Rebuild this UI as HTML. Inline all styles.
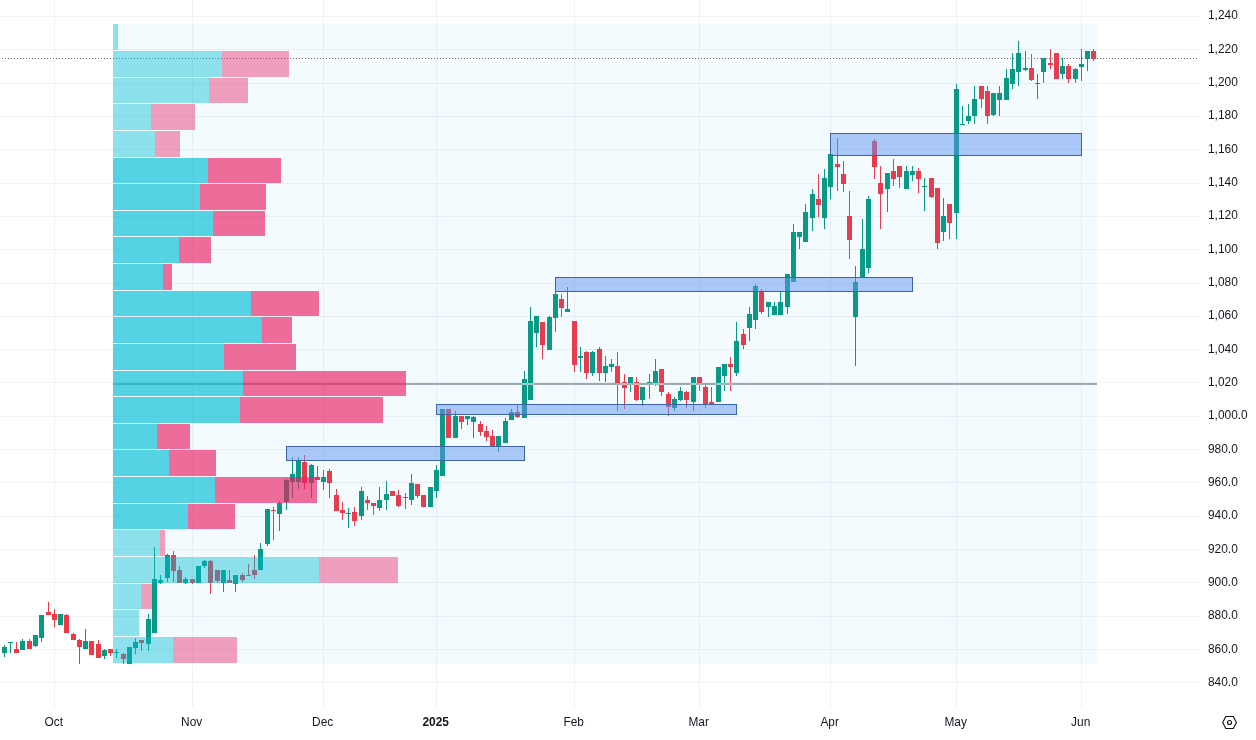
<!DOCTYPE html>
<html lang="en"><head><meta charset="utf-8"><title>Chart</title>
<style>html,body{margin:0;padding:0;background:#fff}body{width:1256px;height:740px;overflow:hidden;position:relative;font-family:"Liberation Sans",sans-serif}svg{position:absolute;left:0;top:0;display:block}text{font-family:"Liberation Sans",sans-serif;font-size:11.9px;fill:#131722}</style></head><body>
<svg width="1256" height="740" viewBox="0 0 1256 740">
<rect width="1256" height="740" fill="#ffffff"/>
<g fill="#f2f2f4" shape-rendering="crispEdges">
<rect x="0" y="16" width="1200" height="1"/>
<rect x="0" y="49" width="1200" height="1"/>
<rect x="0" y="83" width="1200" height="1"/>
<rect x="0" y="116" width="1200" height="1"/>
<rect x="0" y="149" width="1200" height="1"/>
<rect x="0" y="183" width="1200" height="1"/>
<rect x="0" y="216" width="1200" height="1"/>
<rect x="0" y="249" width="1200" height="1"/>
<rect x="0" y="283" width="1200" height="1"/>
<rect x="0" y="316" width="1200" height="1"/>
<rect x="0" y="349" width="1200" height="1"/>
<rect x="0" y="382" width="1200" height="1"/>
<rect x="0" y="416" width="1200" height="1"/>
<rect x="0" y="449" width="1200" height="1"/>
<rect x="0" y="482" width="1200" height="1"/>
<rect x="0" y="516" width="1200" height="1"/>
<rect x="0" y="549" width="1200" height="1"/>
<rect x="0" y="582" width="1200" height="1"/>
<rect x="0" y="616" width="1200" height="1"/>
<rect x="0" y="649" width="1200" height="1"/>
<rect x="0" y="682" width="1200" height="1"/>
<rect x="54" y="0" width="1" height="708"/>
<rect x="192" y="0" width="1" height="708"/>
<rect x="323" y="0" width="1" height="708"/>
<rect x="436" y="0" width="1" height="708"/>
<rect x="574" y="0" width="1" height="708"/>
<rect x="699" y="0" width="1" height="708"/>
<rect x="830" y="0" width="1" height="708"/>
<rect x="956" y="0" width="1" height="708"/>
<rect x="1081" y="0" width="1" height="708"/>
</g>
<line x1="2" y1="58.5" x2="1198" y2="58.5" stroke="#8a626b" stroke-width="1" stroke-dasharray="1 2" shape-rendering="crispEdges"/>
<g shape-rendering="crispEdges">
<rect x="4" y="645" width="1" height="12" fill="#089981"/>
<rect x="2" y="647" width="5" height="6" fill="#089981"/>
<rect x="10" y="642" width="1" height="11" fill="#089981"/>
<rect x="8" y="642" width="5" height="1" fill="#089981"/>
<rect x="16" y="642" width="1" height="11" fill="#f23645"/>
<rect x="14" y="649" width="5" height="4" fill="#f23645"/>
<rect x="22" y="639" width="1" height="11" fill="#089981"/>
<rect x="20" y="641" width="5" height="9" fill="#089981"/>
<rect x="29" y="639" width="1" height="10" fill="#f23645"/>
<rect x="27" y="641" width="5" height="8" fill="#f23645"/>
<rect x="35" y="635" width="1" height="12" fill="#089981"/>
<rect x="33" y="635" width="5" height="11" fill="#089981"/>
<rect x="41" y="615" width="1" height="27" fill="#089981"/>
<rect x="39" y="615" width="5" height="23" fill="#089981"/>
<rect x="48" y="602" width="1" height="13" fill="#f23645"/>
<rect x="46" y="612" width="5" height="3" fill="#f23645"/>
<rect x="54" y="609" width="1" height="18" fill="#f23645"/>
<rect x="52" y="614" width="5" height="6" fill="#f23645"/>
<rect x="60" y="614" width="1" height="11" fill="#089981"/>
<rect x="58" y="614" width="5" height="11" fill="#089981"/>
<rect x="66" y="614" width="1" height="19" fill="#f23645"/>
<rect x="64" y="615" width="5" height="18" fill="#f23645"/>
<rect x="73" y="633" width="1" height="7" fill="#f23645"/>
<rect x="71" y="634" width="5" height="6" fill="#f23645"/>
<rect x="79" y="639" width="1" height="25" fill="#f23645"/>
<rect x="77" y="640" width="5" height="7" fill="#f23645"/>
<rect x="85" y="629" width="1" height="20" fill="#089981"/>
<rect x="83" y="641" width="5" height="8" fill="#089981"/>
<rect x="91" y="641" width="1" height="14" fill="#f23645"/>
<rect x="89" y="641" width="5" height="14" fill="#f23645"/>
<rect x="98" y="640" width="1" height="18" fill="#f23645"/>
<rect x="96" y="644" width="5" height="14" fill="#f23645"/>
<rect x="104" y="649" width="1" height="10" fill="#089981"/>
<rect x="102" y="650" width="5" height="6" fill="#089981"/>
<rect x="110" y="649" width="1" height="7" fill="#f23645"/>
<rect x="108" y="649" width="5" height="4" fill="#f23645"/>
<rect x="116" y="649" width="1" height="9" fill="#089981"/>
<rect x="114" y="652" width="5" height="1" fill="#089981"/>
<rect x="123" y="653" width="1" height="11" fill="#f23645"/>
<rect x="121" y="654" width="5" height="5" fill="#f23645"/>
<rect x="129" y="647" width="1" height="17" fill="#089981"/>
<rect x="127" y="647" width="5" height="17" fill="#089981"/>
<rect x="135" y="638" width="1" height="16" fill="#089981"/>
<rect x="133" y="642" width="5" height="6" fill="#089981"/>
<rect x="141" y="640" width="1" height="11" fill="#f23645"/>
<rect x="139" y="640" width="5" height="3" fill="#f23645"/>
<rect x="148" y="614" width="1" height="37" fill="#089981"/>
<rect x="146" y="619" width="5" height="25" fill="#089981"/>
<rect x="154" y="547" width="1" height="86" fill="#089981"/>
<rect x="152" y="579" width="5" height="54" fill="#089981"/>
<rect x="160" y="575" width="1" height="9" fill="#089981"/>
<rect x="158" y="580" width="5" height="3" fill="#089981"/>
<rect x="167" y="554" width="1" height="28" fill="#089981"/>
<rect x="165" y="555" width="5" height="23" fill="#089981"/>
<rect x="173" y="551" width="1" height="31" fill="#f23645"/>
<rect x="171" y="555" width="5" height="16" fill="#f23645"/>
<rect x="179" y="566" width="1" height="17" fill="#f23645"/>
<rect x="177" y="570" width="5" height="13" fill="#f23645"/>
<rect x="185" y="577" width="1" height="7" fill="#089981"/>
<rect x="183" y="579" width="5" height="4" fill="#089981"/>
<rect x="192" y="579" width="1" height="5" fill="#f23645"/>
<rect x="190" y="579" width="5" height="4" fill="#f23645"/>
<rect x="198" y="566" width="1" height="17" fill="#089981"/>
<rect x="196" y="566" width="5" height="17" fill="#089981"/>
<rect x="204" y="560" width="1" height="8" fill="#089981"/>
<rect x="202" y="561" width="5" height="5" fill="#089981"/>
<rect x="210" y="560" width="1" height="34" fill="#f23645"/>
<rect x="208" y="561" width="5" height="22" fill="#f23645"/>
<rect x="217" y="570" width="1" height="13" fill="#f23645"/>
<rect x="215" y="570" width="5" height="11" fill="#f23645"/>
<rect x="223" y="570" width="1" height="22" fill="#089981"/>
<rect x="221" y="570" width="5" height="13" fill="#089981"/>
<rect x="229" y="570" width="1" height="13" fill="#f23645"/>
<rect x="227" y="580" width="5" height="3" fill="#f23645"/>
<rect x="235" y="575" width="1" height="17" fill="#089981"/>
<rect x="233" y="575" width="5" height="9" fill="#089981"/>
<rect x="242" y="573" width="1" height="9" fill="#f23645"/>
<rect x="240" y="575" width="5" height="5" fill="#f23645"/>
<rect x="248" y="564" width="1" height="12" fill="#f23645"/>
<rect x="246" y="575" width="5" height="1" fill="#f23645"/>
<rect x="254" y="555" width="1" height="24" fill="#f23645"/>
<rect x="252" y="570" width="5" height="5" fill="#f23645"/>
<rect x="260" y="543" width="1" height="27" fill="#089981"/>
<rect x="258" y="549" width="5" height="21" fill="#089981"/>
<rect x="267" y="509" width="1" height="37" fill="#089981"/>
<rect x="265" y="509" width="5" height="35" fill="#089981"/>
<rect x="273" y="507" width="1" height="33" fill="#f23645"/>
<rect x="271" y="510" width="5" height="1" fill="#f23645"/>
<rect x="279" y="501" width="1" height="30" fill="#089981"/>
<rect x="277" y="503" width="5" height="11" fill="#089981"/>
<rect x="286" y="479" width="1" height="31" fill="#089981"/>
<rect x="284" y="480" width="5" height="22" fill="#089981"/>
<rect x="292" y="457" width="1" height="41" fill="#089981"/>
<rect x="290" y="474" width="5" height="8" fill="#089981"/>
<rect x="298" y="457" width="1" height="32" fill="#089981"/>
<rect x="296" y="460" width="5" height="22" fill="#089981"/>
<rect x="304" y="455" width="1" height="34" fill="#f23645"/>
<rect x="302" y="462" width="5" height="21" fill="#f23645"/>
<rect x="311" y="464" width="1" height="34" fill="#089981"/>
<rect x="309" y="465" width="5" height="18" fill="#089981"/>
<rect x="317" y="466" width="1" height="14" fill="#f23645"/>
<rect x="315" y="477" width="5" height="3" fill="#f23645"/>
<rect x="323" y="470" width="1" height="20" fill="#089981"/>
<rect x="321" y="477" width="5" height="5" fill="#089981"/>
<rect x="329" y="469" width="1" height="29" fill="#f23645"/>
<rect x="327" y="471" width="5" height="12" fill="#f23645"/>
<rect x="336" y="489" width="1" height="22" fill="#f23645"/>
<rect x="334" y="495" width="5" height="16" fill="#f23645"/>
<rect x="342" y="502" width="1" height="18" fill="#f23645"/>
<rect x="340" y="510" width="5" height="3" fill="#f23645"/>
<rect x="348" y="508" width="1" height="20" fill="#089981"/>
<rect x="346" y="513" width="5" height="1" fill="#089981"/>
<rect x="354" y="507" width="1" height="19" fill="#f23645"/>
<rect x="352" y="512" width="5" height="9" fill="#f23645"/>
<rect x="361" y="487" width="1" height="33" fill="#089981"/>
<rect x="359" y="491" width="5" height="25" fill="#089981"/>
<rect x="367" y="496" width="1" height="14" fill="#f23645"/>
<rect x="365" y="500" width="5" height="3" fill="#f23645"/>
<rect x="373" y="503" width="1" height="12" fill="#f23645"/>
<rect x="371" y="503" width="5" height="3" fill="#f23645"/>
<rect x="379" y="487" width="1" height="24" fill="#089981"/>
<rect x="377" y="500" width="5" height="8" fill="#089981"/>
<rect x="386" y="481" width="1" height="29" fill="#089981"/>
<rect x="384" y="494" width="5" height="6" fill="#089981"/>
<rect x="392" y="491" width="1" height="5" fill="#f23645"/>
<rect x="390" y="491" width="5" height="5" fill="#f23645"/>
<rect x="398" y="490" width="1" height="17" fill="#f23645"/>
<rect x="396" y="495" width="5" height="11" fill="#f23645"/>
<rect x="405" y="493" width="1" height="16" fill="#f23645"/>
<rect x="403" y="497" width="5" height="1" fill="#f23645"/>
<rect x="411" y="474" width="1" height="31" fill="#089981"/>
<rect x="409" y="483" width="5" height="17" fill="#089981"/>
<rect x="417" y="484" width="1" height="14" fill="#f23645"/>
<rect x="415" y="484" width="5" height="12" fill="#f23645"/>
<rect x="423" y="495" width="1" height="12" fill="#f23645"/>
<rect x="421" y="495" width="5" height="12" fill="#f23645"/>
<rect x="430" y="487" width="1" height="20" fill="#089981"/>
<rect x="428" y="487" width="5" height="20" fill="#089981"/>
<rect x="436" y="465" width="1" height="33" fill="#089981"/>
<rect x="434" y="470" width="5" height="21" fill="#089981"/>
<rect x="442" y="409" width="1" height="67" fill="#089981"/>
<rect x="440" y="409" width="5" height="67" fill="#089981"/>
<rect x="448" y="409" width="1" height="29" fill="#f23645"/>
<rect x="446" y="409" width="5" height="29" fill="#f23645"/>
<rect x="455" y="411" width="1" height="27" fill="#089981"/>
<rect x="453" y="416" width="5" height="22" fill="#089981"/>
<rect x="461" y="416" width="1" height="13" fill="#f23645"/>
<rect x="459" y="416" width="5" height="6" fill="#f23645"/>
<rect x="467" y="416" width="1" height="9" fill="#089981"/>
<rect x="465" y="416" width="5" height="3" fill="#089981"/>
<rect x="473" y="416" width="1" height="22" fill="#089981"/>
<rect x="471" y="417" width="5" height="5" fill="#089981"/>
<rect x="480" y="421" width="1" height="15" fill="#f23645"/>
<rect x="478" y="424" width="5" height="8" fill="#f23645"/>
<rect x="486" y="426" width="1" height="15" fill="#f23645"/>
<rect x="484" y="431" width="5" height="6" fill="#f23645"/>
<rect x="492" y="430" width="1" height="16" fill="#f23645"/>
<rect x="490" y="436" width="5" height="10" fill="#f23645"/>
<rect x="498" y="436" width="1" height="16" fill="#089981"/>
<rect x="496" y="436" width="5" height="11" fill="#089981"/>
<rect x="505" y="418" width="1" height="25" fill="#089981"/>
<rect x="503" y="421" width="5" height="22" fill="#089981"/>
<rect x="511" y="409" width="1" height="11" fill="#089981"/>
<rect x="509" y="412" width="5" height="8" fill="#089981"/>
<rect x="517" y="405" width="1" height="13" fill="#f23645"/>
<rect x="515" y="412" width="5" height="5" fill="#f23645"/>
<rect x="524" y="371" width="1" height="47" fill="#089981"/>
<rect x="522" y="379" width="5" height="39" fill="#089981"/>
<rect x="530" y="307" width="1" height="93" fill="#089981"/>
<rect x="528" y="321" width="5" height="79" fill="#089981"/>
<rect x="536" y="316" width="1" height="31" fill="#089981"/>
<rect x="534" y="316" width="5" height="17" fill="#089981"/>
<rect x="542" y="322" width="1" height="37" fill="#f23645"/>
<rect x="540" y="322" width="5" height="23" fill="#f23645"/>
<rect x="549" y="316" width="1" height="34" fill="#089981"/>
<rect x="547" y="317" width="5" height="33" fill="#089981"/>
<rect x="555" y="292" width="1" height="40" fill="#089981"/>
<rect x="553" y="294" width="5" height="24" fill="#089981"/>
<rect x="561" y="294" width="1" height="23" fill="#f23645"/>
<rect x="559" y="299" width="5" height="9" fill="#f23645"/>
<rect x="567" y="287" width="1" height="25" fill="#089981"/>
<rect x="565" y="309" width="5" height="3" fill="#089981"/>
<rect x="574" y="321" width="1" height="51" fill="#f23645"/>
<rect x="572" y="321" width="5" height="44" fill="#f23645"/>
<rect x="580" y="347" width="1" height="25" fill="#089981"/>
<rect x="578" y="356" width="5" height="2" fill="#089981"/>
<rect x="586" y="351" width="1" height="28" fill="#f23645"/>
<rect x="584" y="352" width="5" height="21" fill="#f23645"/>
<rect x="592" y="351" width="1" height="25" fill="#089981"/>
<rect x="590" y="352" width="5" height="21" fill="#089981"/>
<rect x="599" y="347" width="1" height="34" fill="#f23645"/>
<rect x="597" y="349" width="5" height="24" fill="#f23645"/>
<rect x="605" y="356" width="1" height="26" fill="#089981"/>
<rect x="603" y="366" width="5" height="7" fill="#089981"/>
<rect x="611" y="359" width="1" height="13" fill="#089981"/>
<rect x="609" y="364" width="5" height="3" fill="#089981"/>
<rect x="617" y="352" width="1" height="59" fill="#f23645"/>
<rect x="615" y="366" width="5" height="17" fill="#f23645"/>
<rect x="624" y="374" width="1" height="35" fill="#f23645"/>
<rect x="622" y="382" width="5" height="6" fill="#f23645"/>
<rect x="630" y="377" width="1" height="15" fill="#089981"/>
<rect x="628" y="377" width="5" height="6" fill="#089981"/>
<rect x="636" y="377" width="1" height="24" fill="#f23645"/>
<rect x="634" y="382" width="5" height="18" fill="#f23645"/>
<rect x="642" y="387" width="1" height="19" fill="#089981"/>
<rect x="640" y="387" width="5" height="13" fill="#089981"/>
<rect x="649" y="374" width="1" height="25" fill="#089981"/>
<rect x="647" y="382" width="5" height="1" fill="#089981"/>
<rect x="655" y="359" width="1" height="27" fill="#089981"/>
<rect x="653" y="371" width="5" height="13" fill="#089981"/>
<rect x="661" y="369" width="1" height="27" fill="#f23645"/>
<rect x="659" y="369" width="5" height="23" fill="#f23645"/>
<rect x="668" y="392" width="1" height="24" fill="#f23645"/>
<rect x="666" y="394" width="5" height="13" fill="#f23645"/>
<rect x="674" y="397" width="1" height="14" fill="#089981"/>
<rect x="672" y="399" width="5" height="9" fill="#089981"/>
<rect x="680" y="387" width="1" height="14" fill="#089981"/>
<rect x="678" y="391" width="5" height="9" fill="#089981"/>
<rect x="686" y="391" width="1" height="17" fill="#f23645"/>
<rect x="684" y="392" width="5" height="8" fill="#f23645"/>
<rect x="693" y="377" width="1" height="34" fill="#089981"/>
<rect x="691" y="377" width="5" height="25" fill="#089981"/>
<rect x="699" y="377" width="1" height="14" fill="#f23645"/>
<rect x="697" y="377" width="5" height="6" fill="#f23645"/>
<rect x="705" y="385" width="1" height="23" fill="#f23645"/>
<rect x="703" y="387" width="5" height="17" fill="#f23645"/>
<rect x="711" y="387" width="1" height="17" fill="#f23645"/>
<rect x="709" y="402" width="5" height="2" fill="#f23645"/>
<rect x="718" y="367" width="1" height="35" fill="#089981"/>
<rect x="716" y="367" width="5" height="35" fill="#089981"/>
<rect x="724" y="364" width="1" height="27" fill="#089981"/>
<rect x="722" y="364" width="5" height="12" fill="#089981"/>
<rect x="730" y="357" width="1" height="34" fill="#f23645"/>
<rect x="728" y="364" width="5" height="3" fill="#f23645"/>
<rect x="736" y="322" width="1" height="54" fill="#089981"/>
<rect x="734" y="341" width="5" height="32" fill="#089981"/>
<rect x="743" y="329" width="1" height="20" fill="#f23645"/>
<rect x="741" y="334" width="5" height="11" fill="#f23645"/>
<rect x="749" y="307" width="1" height="34" fill="#089981"/>
<rect x="747" y="314" width="5" height="14" fill="#089981"/>
<rect x="755" y="284" width="1" height="45" fill="#089981"/>
<rect x="753" y="286" width="5" height="34" fill="#089981"/>
<rect x="761" y="289" width="1" height="25" fill="#f23645"/>
<rect x="759" y="292" width="5" height="20" fill="#f23645"/>
<rect x="768" y="302" width="1" height="15" fill="#089981"/>
<rect x="766" y="302" width="5" height="5" fill="#089981"/>
<rect x="774" y="302" width="1" height="13" fill="#089981"/>
<rect x="772" y="306" width="5" height="9" fill="#089981"/>
<rect x="780" y="292" width="1" height="23" fill="#089981"/>
<rect x="778" y="302" width="5" height="13" fill="#089981"/>
<rect x="787" y="274" width="1" height="40" fill="#089981"/>
<rect x="785" y="274" width="5" height="33" fill="#089981"/>
<rect x="793" y="224" width="1" height="58" fill="#089981"/>
<rect x="791" y="232" width="5" height="50" fill="#089981"/>
<rect x="799" y="232" width="1" height="17" fill="#089981"/>
<rect x="797" y="232" width="5" height="5" fill="#089981"/>
<rect x="805" y="204" width="1" height="38" fill="#089981"/>
<rect x="803" y="212" width="5" height="30" fill="#089981"/>
<rect x="812" y="189" width="1" height="42" fill="#089981"/>
<rect x="810" y="194" width="5" height="24" fill="#089981"/>
<rect x="818" y="174" width="1" height="43" fill="#f23645"/>
<rect x="816" y="199" width="5" height="6" fill="#f23645"/>
<rect x="824" y="169" width="1" height="60" fill="#089981"/>
<rect x="822" y="178" width="5" height="40" fill="#089981"/>
<rect x="830" y="154" width="1" height="45" fill="#089981"/>
<rect x="828" y="154" width="5" height="33" fill="#089981"/>
<rect x="837" y="138" width="1" height="53" fill="#f23645"/>
<rect x="835" y="164" width="5" height="3" fill="#f23645"/>
<rect x="843" y="161" width="1" height="31" fill="#f23645"/>
<rect x="841" y="174" width="5" height="10" fill="#f23645"/>
<rect x="849" y="191" width="1" height="68" fill="#f23645"/>
<rect x="847" y="216" width="5" height="24" fill="#f23645"/>
<rect x="855" y="266" width="1" height="100" fill="#089981"/>
<rect x="853" y="282" width="5" height="35" fill="#089981"/>
<rect x="862" y="219" width="1" height="59" fill="#089981"/>
<rect x="860" y="249" width="5" height="29" fill="#089981"/>
<rect x="868" y="196" width="1" height="77" fill="#089981"/>
<rect x="866" y="199" width="5" height="69" fill="#089981"/>
<rect x="874" y="139" width="1" height="40" fill="#f23645"/>
<rect x="872" y="141" width="5" height="26" fill="#f23645"/>
<rect x="880" y="166" width="1" height="63" fill="#f23645"/>
<rect x="878" y="183" width="5" height="11" fill="#f23645"/>
<rect x="887" y="173" width="1" height="39" fill="#089981"/>
<rect x="885" y="173" width="5" height="16" fill="#089981"/>
<rect x="893" y="159" width="1" height="27" fill="#f23645"/>
<rect x="891" y="171" width="5" height="8" fill="#f23645"/>
<rect x="899" y="166" width="1" height="22" fill="#f23645"/>
<rect x="897" y="166" width="5" height="11" fill="#f23645"/>
<rect x="906" y="166" width="1" height="23" fill="#089981"/>
<rect x="904" y="171" width="5" height="18" fill="#089981"/>
<rect x="912" y="166" width="1" height="15" fill="#089981"/>
<rect x="910" y="171" width="5" height="4" fill="#089981"/>
<rect x="918" y="168" width="1" height="25" fill="#f23645"/>
<rect x="916" y="171" width="5" height="8" fill="#f23645"/>
<rect x="924" y="178" width="1" height="33" fill="#089981"/>
<rect x="922" y="186" width="5" height="1" fill="#089981"/>
<rect x="931" y="178" width="1" height="20" fill="#f23645"/>
<rect x="929" y="178" width="5" height="19" fill="#f23645"/>
<rect x="937" y="188" width="1" height="61" fill="#f23645"/>
<rect x="935" y="188" width="5" height="55" fill="#f23645"/>
<rect x="943" y="198" width="1" height="43" fill="#089981"/>
<rect x="941" y="216" width="5" height="16" fill="#089981"/>
<rect x="949" y="204" width="1" height="35" fill="#f23645"/>
<rect x="947" y="204" width="5" height="19" fill="#f23645"/>
<rect x="956" y="84" width="1" height="155" fill="#089981"/>
<rect x="954" y="89" width="5" height="124" fill="#089981"/>
<rect x="962" y="106" width="1" height="19" fill="#089981"/>
<rect x="960" y="124" width="5" height="1" fill="#089981"/>
<rect x="968" y="104" width="1" height="20" fill="#089981"/>
<rect x="966" y="116" width="5" height="5" fill="#089981"/>
<rect x="974" y="86" width="1" height="38" fill="#089981"/>
<rect x="972" y="99" width="5" height="17" fill="#089981"/>
<rect x="981" y="86" width="1" height="22" fill="#f23645"/>
<rect x="979" y="86" width="5" height="13" fill="#f23645"/>
<rect x="987" y="86" width="1" height="38" fill="#f23645"/>
<rect x="985" y="91" width="5" height="25" fill="#f23645"/>
<rect x="993" y="93" width="1" height="23" fill="#089981"/>
<rect x="991" y="93" width="5" height="22" fill="#089981"/>
<rect x="999" y="86" width="1" height="30" fill="#089981"/>
<rect x="997" y="93" width="5" height="7" fill="#089981"/>
<rect x="1006" y="69" width="1" height="31" fill="#089981"/>
<rect x="1004" y="78" width="5" height="22" fill="#089981"/>
<rect x="1012" y="53" width="1" height="36" fill="#089981"/>
<rect x="1010" y="69" width="5" height="15" fill="#089981"/>
<rect x="1018" y="41" width="1" height="45" fill="#089981"/>
<rect x="1016" y="53" width="5" height="19" fill="#089981"/>
<rect x="1025" y="51" width="1" height="20" fill="#089981"/>
<rect x="1023" y="68" width="5" height="2" fill="#089981"/>
<rect x="1031" y="54" width="1" height="27" fill="#f23645"/>
<rect x="1029" y="68" width="5" height="12" fill="#f23645"/>
<rect x="1037" y="74" width="1" height="25" fill="#089981"/>
<rect x="1035" y="83" width="5" height="1" fill="#089981"/>
<rect x="1043" y="58" width="1" height="25" fill="#089981"/>
<rect x="1041" y="58" width="5" height="14" fill="#089981"/>
<rect x="1050" y="49" width="1" height="20" fill="#f23645"/>
<rect x="1048" y="63" width="5" height="2" fill="#f23645"/>
<rect x="1056" y="53" width="1" height="26" fill="#f23645"/>
<rect x="1054" y="53" width="5" height="26" fill="#f23645"/>
<rect x="1062" y="58" width="1" height="21" fill="#089981"/>
<rect x="1060" y="66" width="5" height="8" fill="#089981"/>
<rect x="1068" y="64" width="1" height="19" fill="#f23645"/>
<rect x="1066" y="66" width="5" height="13" fill="#f23645"/>
<rect x="1075" y="68" width="1" height="15" fill="#089981"/>
<rect x="1073" y="69" width="5" height="10" fill="#089981"/>
<rect x="1081" y="49" width="1" height="32" fill="#089981"/>
<rect x="1079" y="64" width="5" height="3" fill="#089981"/>
<rect x="1087" y="51" width="1" height="20" fill="#089981"/>
<rect x="1085" y="51" width="5" height="8" fill="#089981"/>
<rect x="1093" y="49" width="1" height="12" fill="#f23645"/>
<rect x="1091" y="51" width="5" height="8" fill="#f23645"/>
</g>
<rect x="113" y="383" width="984" height="2" fill="#a6abad" shape-rendering="crispEdges"/>
<rect x="522" y="383" width="5" height="2" fill="#9ad8cd" shape-rendering="crispEdges"/>
<rect x="528" y="383" width="5" height="2" fill="#9ad8cd" shape-rendering="crispEdges"/>
<rect x="617" y="383" width="1" height="2" fill="#f9b3b9" shape-rendering="crispEdges"/>
<rect x="622" y="383" width="5" height="2" fill="#f9b3b9" shape-rendering="crispEdges"/>
<rect x="630" y="383" width="1" height="2" fill="#9ad8cd" shape-rendering="crispEdges"/>
<rect x="634" y="383" width="5" height="2" fill="#f9b3b9" shape-rendering="crispEdges"/>
<rect x="649" y="383" width="1" height="2" fill="#9ad8cd" shape-rendering="crispEdges"/>
<rect x="653" y="383" width="5" height="2" fill="#9ad8cd" shape-rendering="crispEdges"/>
<rect x="659" y="383" width="5" height="2" fill="#f9b3b9" shape-rendering="crispEdges"/>
<rect x="691" y="383" width="5" height="2" fill="#9ad8cd" shape-rendering="crispEdges"/>
<rect x="699" y="383" width="1" height="2" fill="#f9b3b9" shape-rendering="crispEdges"/>
<rect x="716" y="383" width="5" height="2" fill="#9ad8cd" shape-rendering="crispEdges"/>
<rect x="724" y="383" width="1" height="2" fill="#9ad8cd" shape-rendering="crispEdges"/>
<rect x="730" y="383" width="1" height="2" fill="#f9b3b9" shape-rendering="crispEdges"/>
<g shape-rendering="crispEdges">
<rect x="113" y="24" width="984" height="639.5" fill="rgb(15,170,235)" fill-opacity="0.05"/>
<rect x="113" y="24" width="4" height="26" fill="rgb(0,188,212)" fill-opacity="0.42"/>
<rect x="117" y="24" width="1" height="26" fill="rgb(120,110,170)" fill-opacity="0.42"/>
<rect x="113" y="51" width="109" height="26" fill="rgb(0,188,212)" fill-opacity="0.42"/>
<rect x="222" y="51" width="67" height="26" fill="rgb(233,30,99)" fill-opacity="0.42"/>
<rect x="113" y="78" width="96" height="25" fill="rgb(0,188,212)" fill-opacity="0.42"/>
<rect x="209" y="78" width="39" height="25" fill="rgb(233,30,99)" fill-opacity="0.42"/>
<rect x="113" y="104" width="38" height="26" fill="rgb(0,188,212)" fill-opacity="0.42"/>
<rect x="151" y="104" width="44" height="26" fill="rgb(233,30,99)" fill-opacity="0.42"/>
<rect x="113" y="131" width="42" height="26" fill="rgb(0,188,212)" fill-opacity="0.42"/>
<rect x="155" y="131" width="25" height="26" fill="rgb(233,30,99)" fill-opacity="0.42"/>
<rect x="113" y="158" width="95" height="25" fill="rgb(0,188,212)" fill-opacity="0.65"/>
<rect x="208" y="158" width="73" height="25" fill="rgb(233,30,99)" fill-opacity="0.65"/>
<rect x="113" y="184" width="87" height="26" fill="rgb(0,188,212)" fill-opacity="0.65"/>
<rect x="200" y="184" width="66" height="26" fill="rgb(233,30,99)" fill-opacity="0.65"/>
<rect x="113" y="211" width="100" height="25" fill="rgb(0,188,212)" fill-opacity="0.65"/>
<rect x="213" y="211" width="52" height="25" fill="rgb(233,30,99)" fill-opacity="0.65"/>
<rect x="113" y="237" width="66" height="26" fill="rgb(0,188,212)" fill-opacity="0.65"/>
<rect x="179" y="237" width="32" height="26" fill="rgb(233,30,99)" fill-opacity="0.65"/>
<rect x="113" y="264" width="50" height="26" fill="rgb(0,188,212)" fill-opacity="0.65"/>
<rect x="163" y="264" width="9" height="26" fill="rgb(233,30,99)" fill-opacity="0.65"/>
<rect x="113" y="291" width="138" height="25" fill="rgb(0,188,212)" fill-opacity="0.65"/>
<rect x="251" y="291" width="68" height="25" fill="rgb(233,30,99)" fill-opacity="0.65"/>
<rect x="113" y="317" width="149" height="26" fill="rgb(0,188,212)" fill-opacity="0.65"/>
<rect x="262" y="317" width="30" height="26" fill="rgb(233,30,99)" fill-opacity="0.65"/>
<rect x="113" y="344" width="111" height="26" fill="rgb(0,188,212)" fill-opacity="0.65"/>
<rect x="224" y="344" width="72" height="26" fill="rgb(233,30,99)" fill-opacity="0.65"/>
<rect x="113" y="371" width="130" height="25" fill="rgb(0,188,212)" fill-opacity="0.65"/>
<rect x="243" y="371" width="163" height="25" fill="rgb(233,30,99)" fill-opacity="0.65"/>
<rect x="113" y="397" width="127" height="26" fill="rgb(0,188,212)" fill-opacity="0.65"/>
<rect x="240" y="397" width="143" height="26" fill="rgb(233,30,99)" fill-opacity="0.65"/>
<rect x="113" y="424" width="44" height="25" fill="rgb(0,188,212)" fill-opacity="0.65"/>
<rect x="157" y="424" width="33" height="25" fill="rgb(233,30,99)" fill-opacity="0.65"/>
<rect x="113" y="450" width="56" height="26" fill="rgb(0,188,212)" fill-opacity="0.65"/>
<rect x="169" y="450" width="47" height="26" fill="rgb(233,30,99)" fill-opacity="0.65"/>
<rect x="113" y="477" width="102" height="26" fill="rgb(0,188,212)" fill-opacity="0.65"/>
<rect x="215" y="477" width="102" height="26" fill="rgb(233,30,99)" fill-opacity="0.65"/>
<rect x="113" y="504" width="75" height="25" fill="rgb(0,188,212)" fill-opacity="0.65"/>
<rect x="188" y="504" width="47" height="25" fill="rgb(233,30,99)" fill-opacity="0.65"/>
<rect x="113" y="530" width="47" height="26" fill="rgb(0,188,212)" fill-opacity="0.42"/>
<rect x="160" y="530" width="5" height="26" fill="rgb(233,30,99)" fill-opacity="0.42"/>
<rect x="113" y="557" width="206" height="26" fill="rgb(0,188,212)" fill-opacity="0.42"/>
<rect x="319" y="557" width="79" height="26" fill="rgb(233,30,99)" fill-opacity="0.42"/>
<rect x="113" y="584" width="28" height="25" fill="rgb(0,188,212)" fill-opacity="0.42"/>
<rect x="141" y="584" width="11" height="25" fill="rgb(233,30,99)" fill-opacity="0.42"/>
<rect x="113" y="610" width="26" height="26" fill="rgb(0,188,212)" fill-opacity="0.42"/>
<rect x="113" y="637" width="60" height="26" fill="rgb(0,188,212)" fill-opacity="0.42"/>
<rect x="173" y="637" width="64" height="26" fill="rgb(233,30,99)" fill-opacity="0.42"/>
</g>
<rect x="830.5" y="133.5" width="251.0" height="22.0" fill="rgb(98,150,240)" fill-opacity="0.5" stroke="#3f64a6" stroke-width="1"/>
<rect x="555.5" y="277.5" width="357.0" height="14.0" fill="rgb(98,150,240)" fill-opacity="0.5" stroke="#3f64a6" stroke-width="1"/>
<rect x="436.5" y="404.5" width="300.0" height="10.0" fill="rgb(98,150,240)" fill-opacity="0.5" stroke="#3f64a6" stroke-width="1"/>
<rect x="286.5" y="446.5" width="238.0" height="14.0" fill="rgb(98,150,240)" fill-opacity="0.5" stroke="#3f64a6" stroke-width="1"/>
<text x="1208" y="19.45">1,240</text>
<text x="1208" y="52.77">1,220</text>
<text x="1208" y="86.09">1,200</text>
<text x="1208" y="119.41">1,180</text>
<text x="1208" y="152.73">1,160</text>
<text x="1208" y="186.05">1,140</text>
<text x="1208" y="219.37">1,120</text>
<text x="1208" y="252.69">1,100</text>
<text x="1208" y="286.01">1,080</text>
<text x="1208" y="319.33">1,060</text>
<text x="1208" y="352.65">1,040</text>
<text x="1208" y="385.97">1,020</text>
<text x="1208" y="419.29">1,000.0</text>
<text x="1208" y="452.61">980.0</text>
<text x="1208" y="485.93">960.0</text>
<text x="1208" y="519.25">940.0</text>
<text x="1208" y="552.57">920.0</text>
<text x="1208" y="585.89">900.0</text>
<text x="1208" y="619.21">880.0</text>
<text x="1208" y="652.53">860.0</text>
<text x="1208" y="685.85">840.0</text>
<text x="53.7" y="725.6" text-anchor="middle">Oct</text>
<text x="191.7" y="725.6" text-anchor="middle">Nov</text>
<text x="322.7" y="725.6" text-anchor="middle">Dec</text>
<text x="435.7" y="725.6" text-anchor="middle" font-weight="bold">2025</text>
<text x="573.7" y="725.6" text-anchor="middle">Feb</text>
<text x="698.7" y="725.6" text-anchor="middle">Mar</text>
<text x="829.7" y="725.6" text-anchor="middle">Apr</text>
<text x="955.7" y="725.6" text-anchor="middle">May</text>
<text x="1080.7" y="725.6" text-anchor="middle">Jun</text>
<g fill="none" stroke="#101114" stroke-width="1.1"><path d="M1222.7 722.5 L1225.8 716.5 L1233.3 716.5 L1236.4 722.5 L1233.3 728.5 L1225.8 728.5 Z"/><circle cx="1229.5" cy="722.5" r="2"/></g>
</svg></body></html>
